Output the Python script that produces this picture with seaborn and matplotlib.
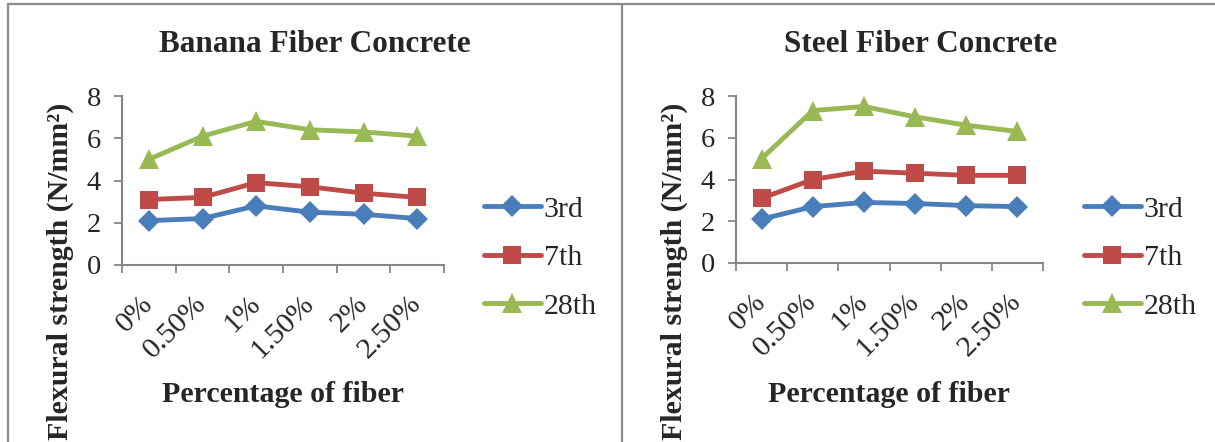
import matplotlib
matplotlib.use("Agg")
import matplotlib.pyplot as plt
import matplotlib.ticker as mticker
from matplotlib.lines import Line2D
import pandas as pd
import seaborn as sns

# Fiber dosages and curing ages
fibers = ["0%", "0.50%", "1%", "1.50%", "2%", "2.50%"]
ages = ["3rd", "7th", "28th"]

# Flexural strength (N/mm²) for banana fiber concrete
banana_3rd = [2.1, 2.2, 2.8, 2.5, 2.4, 2.2]
banana_7th = [3.1, 3.2, 3.9, 3.7, 3.4, 3.2]
banana_28th = [5.0, 6.1, 6.8, 6.4, 6.3, 6.1]

# Flexural strength (N/mm²) for steel fiber concrete
steel_3rd = [2.1, 2.7, 2.9, 2.85, 2.75, 2.7]
steel_7th = [3.1, 4.0, 4.4, 4.3, 4.2, 4.2]
steel_28th = [5.0, 7.3, 7.5, 7.0, 6.6, 6.3]

colors = ["#4A7EBB", "#BE4B48", "#98B954"]
markers = ["D", "s", "^"]
marker_sizes = {"D": 11.5, "s": 13.5, "^": 15}
axis_gray = "#868686"
line_w = 3.5

sns.set_theme(style="white")
plt.rcParams["font.family"] = ["Liberation Serif", "DejaVu Serif"]

W, H = 1215, 442
fig = plt.figure(figsize=(W / 100, H / 100), dpi=100)
fig.patch.set_facecolor("white")


def to_frame(series):
    rows = []
    for age, vals in zip(ages, series):
        for f, v in zip(fibers, vals):
            rows.append({"fiber": f, "age": age, "strength": v})
    return pd.DataFrame(rows)


def panel(rect, series, title, title_x, ylabel_x, xlabel_x, legend_xy):
    left, top, right, bottom = rect
    ax = fig.add_axes([left / W, 1 - bottom / H, (right - left) / W, (bottom - top) / H])
    df = to_frame(series)
    sns.pointplot(data=df, x="fiber", y="strength", hue="age", order=fibers,
                  hue_order=ages, palette=colors, markers=markers,
                  linestyles=["-", "-", "-"], errorbar=None, ax=ax,
                  linewidth=line_w, markersize=13)
    for line in ax.lines:
        m = line.get_marker()
        if m in marker_sizes:
            line.set_markersize(marker_sizes[m])
        line.set_markeredgewidth(0)
        line.set_solid_capstyle("round")
        line.set_solid_joinstyle("round")
    if ax.get_legend() is not None:
        ax.get_legend().remove()

    ax.set_ylim(0, 8)
    ax.set_xlim(-0.5, len(fibers) - 0.5)
    ax.yaxis.set_major_locator(mticker.MultipleLocator(2))
    ax.set_xticks(range(len(fibers)))
    ax.set_xticks([i - 0.5 for i in range(len(fibers) + 1)], minor=True)
    ax.set_xticklabels(fibers, rotation=45, ha="right", va="center",
                       rotation_mode="anchor", fontsize=21.5)
    ax.tick_params(axis="x", which="major", length=0, pad=25)
    ax.tick_params(axis="x", which="minor", length=6, width=1.3,
                   color=axis_gray, direction="out", bottom=True)
    ax.tick_params(axis="y", which="major", length=6, width=1.3,
                   color=axis_gray, direction="out", left=True, pad=9,
                   labelsize=20.5)
    for s in ["top", "right"]:
        ax.spines[s].set_visible(False)
    for s in ["left", "bottom"]:
        ax.spines[s].set_color(axis_gray)
        ax.spines[s].set_linewidth(1.5)
    ax.set_xlabel("")
    ax.set_ylabel("")
    ax.set_facecolor("white")

    fig.text(title_x / W, 1 - 45 / H, title, ha="center", va="center",
             fontsize=22.5, fontweight="bold")
    fig.text(ylabel_x / W, 1 - 271 / H, "Flexural strength (N/mm²)",
             rotation=90, ha="center", va="center", fontsize=21.5,
             fontweight="bold")
    fig.text(xlabel_x / W, 1 - 394 / H, "Percentage of fiber", ha="center",
             va="center", fontsize=21.5, fontweight="bold")

    handles = [Line2D([], [], color=c, marker=m, markersize=marker_sizes[m],
                      markeredgewidth=0, linewidth=line_w, solid_capstyle="round")
               for c, m in zip(colors, markers)]
    fig.legend(handles, ages, loc="upper left",
               bbox_to_anchor=(legend_xy[0] / W, 1 - legend_xy[1] / H),
               frameon=False, fontsize=21.5, handlelength=1.9,
               handletextpad=0.1, labelspacing=0.72, borderpad=0,
               borderaxespad=0)
    return ax


panel((122, 96, 444, 265), [banana_3rd, banana_7th, banana_28th],
      "Banana Fiber Concrete", 315, 60, 283, (484, 196))
panel((736, 96, 1043, 263), [steel_3rd, steel_7th, steel_28th],
      "Steel Fiber Concrete", 921, 674, 889, (1084, 196))

# Outer frame lines
frame_gray = "#8C8C8C"
fig.add_artist(Line2D([7.5 / W, 1], [1 - 3.5 / H, 1 - 3.5 / H], color=frame_gray, lw=1.6))
fig.add_artist(Line2D([7.5 / W, 7.5 / W], [0, 1 - 3.5 / H], color=frame_gray, lw=1.6))
fig.add_artist(Line2D([622 / W, 622 / W], [0, 1 - 3.5 / H], color=frame_gray, lw=1.6))

fig.savefig("out.png", dpi=100)
